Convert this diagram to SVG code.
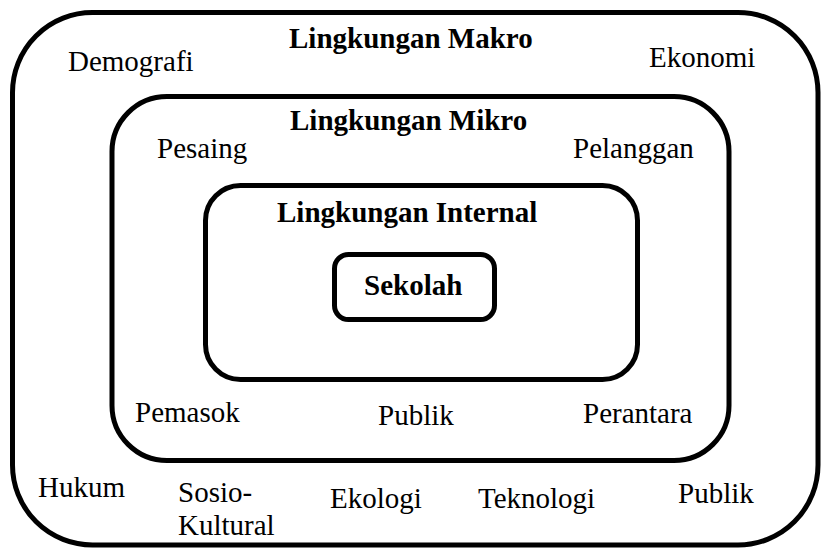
<svg xmlns="http://www.w3.org/2000/svg" width="821" height="548" viewBox="0 0 821 548">
<style>
.box{fill:none;stroke:#000;stroke-width:5}
text{font-family:"Liberation Serif","Times New Roman",serif;font-size:29px;fill:#000}
.b{font-weight:bold}
</style>
<rect width="821" height="548" fill="#fff"/>
<g id="makro">
<rect class="box" x="12.5" y="12.5" width="805.5" height="532.5" rx="80" ry="80"/>
<text class="b" x="289" y="48">Lingkungan Makro</text>
<text x="68" y="71">Demografi</text>
<text x="649" y="67">Ekonomi</text>
<text x="38" y="497">Hukum</text>
<text x="178" y="502">Sosio-</text>
<text x="178" y="535">Kultural</text>
<text x="330" y="508">Ekologi</text>
<text x="478" y="508">Teknologi</text>
<text x="678" y="503">Publik</text>
</g>
<g id="mikro">
<rect class="box" x="112" y="96.5" width="617" height="364" rx="55" ry="55"/>
<text class="b" x="290" y="130">Lingkungan Mikro</text>
<text x="157" y="158">Pesaing</text>
<text x="573" y="158">Pelanggan</text>
<text x="135" y="422">Pemasok</text>
<text x="378" y="425">Publik</text>
<text x="583" y="423">Perantara</text>
</g>
<g id="internal">
<rect class="box" x="205.5" y="185.5" width="432" height="194" rx="35" ry="35"/>
<text class="b" x="277" y="222">Lingkungan Internal</text>
</g>
<g id="sekolah">
<rect class="box" x="334.5" y="254.5" width="160" height="65" rx="14" ry="14"/>
<text class="b" x="364" y="295">Sekolah</text>
</g>
<g id="connectors"/>
</svg>
